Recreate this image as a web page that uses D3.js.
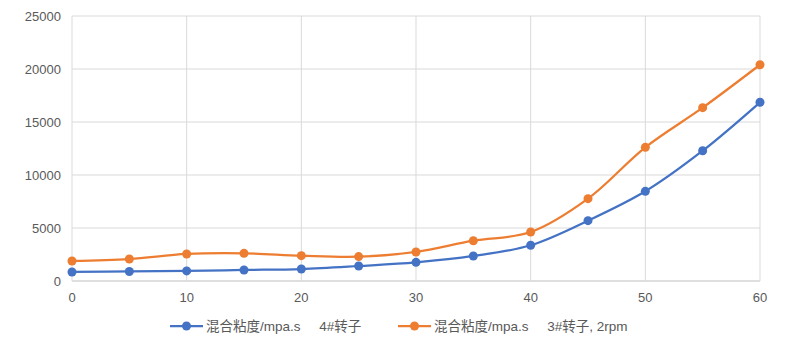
<!DOCTYPE html>
<html><head><meta charset="utf-8">
<script src="https://cdn.jsdelivr.net/npm/d3@7"></script>
<style>body{margin:0;background:#fff;}svg{display:block;}text{font-family:"Liberation Sans","Noto Sans CJK SC",sans-serif;}</style>
</head><body>
<svg id="c" width="808" height="359"></svg>
<script>
const xValues = [0,5,10,15,20,25,30,35,40,45,50,55,60];
const series1 = [850,900,950,1040,1130,1415,1760,2360,3370,5690,8460,12290,16860];
const series2 = [1890,2075,2550,2610,2390,2300,2740,3800,4620,7770,12610,16350,20400];
const seriesNames = ["混合粘度/mpa.s\u00a0\u00a0\u00a0\u00a0\u00a04#转子","混合粘度/mpa.s\u00a0\u00a0\u00a0\u00a0\u00a03#转子, 2rpm"];
const colors = ["#4472C4","#ED7D31"];
const xTicks = [0,10,20,30,40,50,60];
const yTicks = [0,5000,10000,15000,20000,25000];

const svg = d3.select("#c");
const x = d3.scaleLinear().domain([0,60]).range([72,760]);
const y = d3.scaleLinear().domain([0,25000]).range([281,16]);

svg.append("g").selectAll("line").data(yTicks).join("line")
  .attr("x1",72).attr("x2",760).attr("y1",d=>y(d)).attr("y2",d=>y(d))
  .attr("stroke",d=>d===0?"#bfbfbf":"#d9d9d9").attr("stroke-width",1);
svg.append("g").selectAll("line").data(xTicks).join("line")
  .attr("x1",d=>x(d)).attr("x2",d=>x(d)).attr("y1",16).attr("y2",281)
  .attr("stroke","#d9d9d9").attr("stroke-width",1);

svg.append("g").selectAll("text").data(yTicks).join("text")
  .attr("x",61).attr("y",d=>y(d)+5).attr("text-anchor","end")
  .attr("font-size",13).attr("fill","#595959").text(d=>d);
svg.append("g").selectAll("text").data(xTicks).join("text")
  .attr("x",d=>x(d)).attr("y",302).attr("text-anchor","middle")
  .attr("font-size",13).attr("fill","#595959").text(d=>d);

const line = d3.line().x(d=>x(d[0])).y(d=>y(d[1])).curve(d3.curveCatmullRom.alpha(0.5));
[series1,series2].forEach((s,i)=>{
  const pts = xValues.map((v,j)=>[v,s[j]]);
  svg.append("path").datum(pts).attr("d",line).attr("fill","none")
    .attr("stroke",colors[i]).attr("stroke-width",2.25).attr("stroke-linecap","round");
  svg.append("g").selectAll("circle").data(pts).join("circle")
    .attr("cx",d=>x(d[0])).attr("cy",d=>y(d[1])).attr("r",4.5).attr("fill",colors[i]);
});

const legX = [170,398];
seriesNames.forEach((n,i)=>{
  const g = svg.append("g");
  g.append("line").attr("x1",legX[i]).attr("x2",legX[i]+33).attr("y1",326).attr("y2",326)
    .attr("stroke",colors[i]).attr("stroke-width",2.25);
  g.append("circle").attr("cx",legX[i]+16.5).attr("cy",326).attr("r",4.5).attr("fill",colors[i]);
  g.append("text").attr("x",legX[i]+36).attr("y",331).attr("font-size",13.5).attr("fill","#595959").text(n);
});
</script>
</body></html>
